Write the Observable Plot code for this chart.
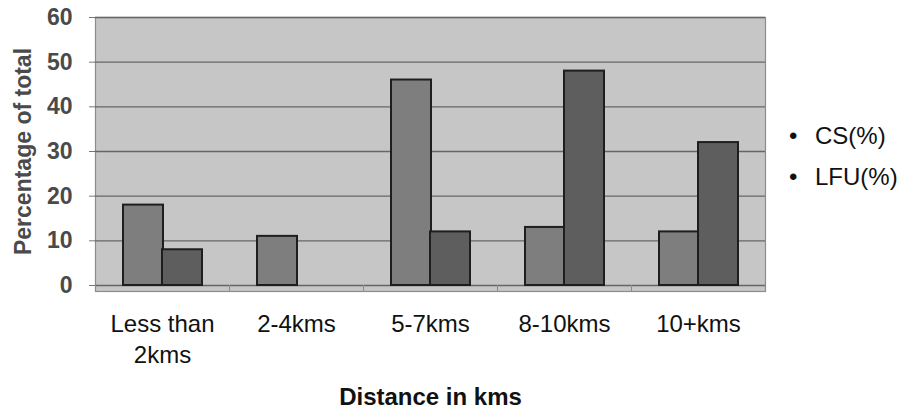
<!DOCTYPE html>
<html>
<head>
<meta charset="utf-8">
<script src="https://cdn.jsdelivr.net/npm/d3@7"></script>
<script src="https://cdn.jsdelivr.net/npm/@observablehq/plot@0.6"></script>
<style>
  html, body { margin: 0; padding: 0; background: #fff; }
  #wrap { position: relative; width: 901px; height: 411px; font-family: "Liberation Sans", Arial, sans-serif; }
  #legend { position: absolute; left: 789px; top: 115px; font-size: 24px; line-height: 41px; color: #111; }
  #legend .b { display: inline-block; width: 26px; text-align: left; }
</style>
</head>
<body>
<div id="wrap"><div id="legend"></div></div>
<script>
const categories = ["Less than 2kms", "2-4kms", "5-7kms", "8-10kms", "10+kms"];
const tickLabels = ["Less than\n2kms", "2-4kms", "5-7kms", "8-10kms", "10+kms"];
const seriesNames = ["CS(%)", "LFU(%)"];
const csValues = [18, 11, 46, 13, 12];
const lfuValues = [8, null, 12, 48, 32];
const yTicks = [0, 10, 20, 30, 40, 50, 60];

const csData = categories.map((c, i) => ({cat: c, value: csValues[i]})).filter(d => d.value != null);
const lfuData = categories.map((c, i) => ({cat: c, value: lfuValues[i]})).filter(d => d.value != null);

const font = "'Liberation Sans', Arial, sans-serif";

const chart = Plot.plot({
  width: 901,
  height: 411,
  marginLeft: 95,
  marginRight: 136,
  marginTop: 17,
  marginBottom: 126,
  style: {fontFamily: font, background: "transparent", overflow: "visible"},
  x: {domain: categories, padding: 0},
  y: {domain: [0, 60]},
  marks: [
    Plot.frame({fill: "#c6c6c6", stroke: "#8c8c8c", strokeWidth: 1.2, insetBottom: -6}),
    Plot.ruleY(yTicks, {stroke: "#666", strokeWidth: 1.3}),
    Plot.barY(csData, {x: "cat", y: "value", fill: "#7e7e7e", stroke: "#1e1e1e", strokeWidth: 2, insetLeft: 28, insetRight: 66}),
    Plot.barY(lfuData, {x: "cat", y: "value", fill: "#5e5e5e", stroke: "#1e1e1e", strokeWidth: 2, insetLeft: 67, insetRight: 27}),
    Plot.axisY({ticks: yTicks, tickSize: 6, tickPadding: 17, fontSize: 23, fontWeight: "bold", fill: "#4a4a4a", stroke: "#777",
      label: "Percentage of total", labelAnchor: "center", labelArrow: "none", labelOffset: 81}),
    Plot.axisX({tickSize: 6, dx: -67, stroke: "#8c8c8c", tickFormat: () => "", label: null}),
    Plot.axisX({tickSize: 0, tickPadding: 24, fontSize: 24, lineHeight: 1.3, fill: "#111",
      tickFormat: d => tickLabels[categories.indexOf(d)], label: null}),
    Plot.axisX({tickSize: 0, tickFormat: () => "", fontSize: 24, fontWeight: "bold", fill: "#111",
      label: "Distance in kms", labelAnchor: "center", labelArrow: "none", labelOffset: 119})
  ]
});
document.getElementById("wrap").prepend(chart);

const legend = document.getElementById("legend");
seriesNames.forEach(s => {
  const row = document.createElement("div");
  row.innerHTML = `<span class="b">•</span>${s}`;
  legend.appendChild(row);
});
</script>
</body>
</html>
